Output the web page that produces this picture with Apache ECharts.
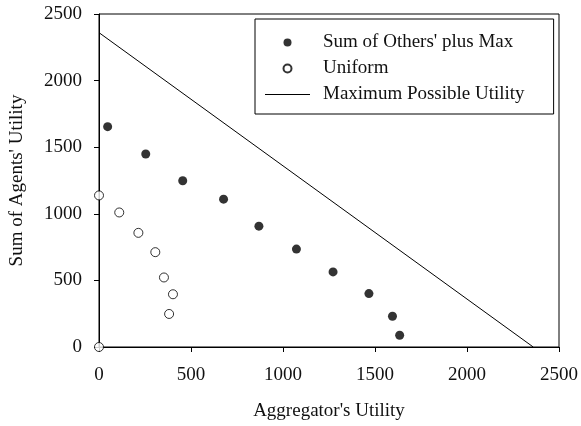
<!DOCTYPE html>
<html>
<head>
<meta charset="utf-8">
<script src="https://cdn.jsdelivr.net/npm/echarts@6/dist/echarts.min.js"></script>
<style>
  html, body { margin: 0; padding: 0; background: #fff; }
  #main { width: 581px; height: 426px; }
</style>
</head>
<body>
<div id="main"></div>
<script>
// values
var seriesNames = ["Sum of Others' plus Max", 'Uniform', 'Maximum Possible Utility'];

// Sum of Others' plus Max: [aggregator, agents]
var othersMax = [
    [47, 1654], [254, 1449], [455, 1248], [677, 1110], [869, 907],
    [1073, 735], [1272, 564], [1467, 401], [1595, 231], [1634, 88]
];

// Uniform
var uniform = [
    [0, 1138], [110, 1010], [214, 857], [306, 712], [353, 522],
    [402, 396], [381, 248], [0, 0]
];

// Maximum possible utility (straight line)
var maxLine = [[0, 2360], [2360, 0]];

var axisTicks = [0, 500, 1000, 1500, 2000, 2500];

var chartDom = document.getElementById('main');
var myChart = echarts.init(chartDom);
var font = '"Liberation Serif", "Times New Roman", serif';

var option = {
    backgroundColor: '#fff',
    animation: false,
    grid: {
        left: 99, right: 19, top: 14, bottom: 79,
        show: true,
        borderColor: '#000',
        borderWidth: 1,
        backgroundColor: 'transparent'
    },
    legend: {
        orient: 'vertical',
        left: 255,
        top: 19,
        padding: [14, 29, 10, 10],
        itemWidth: 45,
        itemHeight: 8,
        itemGap: 7,
        borderColor: '#000',
        borderWidth: 1,
        textStyle: {
            fontFamily: font, fontSize: 19, color: '#111',
            padding: [0, 0, 0, 8]
        },
        data: [
            { name: seriesNames[0] },
            { name: seriesNames[1] },
            { name: seriesNames[2], icon: 'path://M0,0L45,0L45,1L0,1Z' }
        ]
    },
    xAxis: {
        type: 'value',
        min: axisTicks[0],
        max: axisTicks[axisTicks.length - 1],
        interval: 500,
        name: "Aggregator's Utility",
        nameLocation: 'middle',
        nameGap: 55,
        nameTextStyle: { fontFamily: font, fontSize: 19, color: '#111' },
        axisLine: { lineStyle: { color: '#000', width: 1 } },
        axisTick: { show: true, length: 5, inside: false, lineStyle: { color: '#000' } },
        axisLabel: { fontFamily: font, fontSize: 19, color: '#111', margin: 19,
                     formatter: function (v) { return String(v); } },
        splitLine: { show: false }
    },
    yAxis: {
        type: 'value',
        min: axisTicks[0],
        max: axisTicks[axisTicks.length - 1],
        interval: 500,
        name: "Sum of Agents' Utility",
        nameLocation: 'middle',
        nameGap: 72,
        nameTextStyle: { fontFamily: font, fontSize: 19, color: '#111' },
        axisLine: { show: true, lineStyle: { color: '#000', width: 1 } },
        axisTick: { show: true, length: 5, inside: false, lineStyle: { color: '#000' } },
        axisLabel: { fontFamily: font, fontSize: 19, color: '#111', margin: 17,
                     formatter: function (v) { return String(v); } },
        splitLine: { show: false }
    },
    series: [
        {
            name: seriesNames[0],
            type: 'scatter',
            data: othersMax,
            symbol: 'circle',
            symbolSize: 9,
            clip: false,
            itemStyle: { color: '#000' },
            z: 3
        },
        {
            name: seriesNames[1],
            type: 'scatter',
            data: uniform,
            symbol: 'circle',
            symbolSize: 9,
            clip: false,
            itemStyle: { color: '#fff', borderColor: '#000', borderWidth: 1 },
            z: 3
        },
        {
            name: seriesNames[2],
            type: 'line',
            data: maxLine,
            symbol: 'none',
            showSymbol: false,
            lineStyle: { color: '#000', width: 1 },
            itemStyle: { color: '#000' },
            z: 2
        }
    ]
};

myChart.setOption(option);
</script>
</body>
</html>
